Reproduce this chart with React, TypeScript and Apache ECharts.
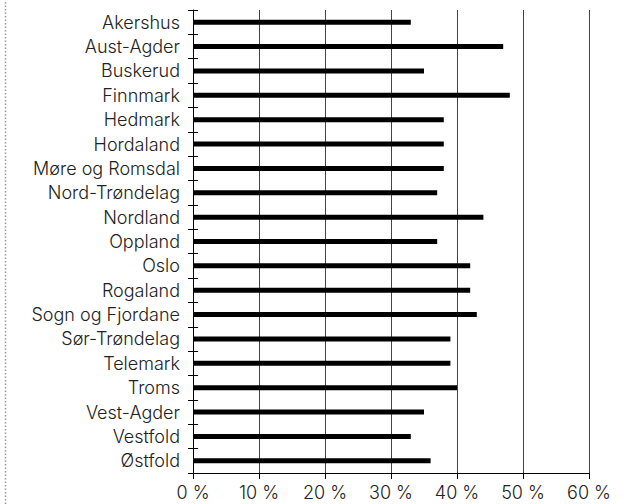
import React, { useEffect, useRef } from "react";
import * as echarts from "echarts";

const categories = [
  "Akershus", "Aust-Agder", "Buskerud", "Finnmark", "Hedmark", "Hordaland",
  "Møre og Romsdal", "Nord-Trøndelag", "Nordland", "Oppland", "Oslo", "Rogaland",
  "Sogn og Fjordane", "Sør-Trøndelag", "Telemark", "Troms", "Vest-Agder", "Vestfold", "Østfold",
];
const values = [33, 47, 35, 48, 38, 38, 38, 37, 44, 37, 42, 42, 43, 39, 39, 40, 35, 33, 36];
const xMin = 0;
const xMax = 60;
const xStep = 10;

export default function App() {
  const ref = useRef<HTMLDivElement>(null);
  useEffect(() => {
    document.body.style.margin = "0";
    const chart = echarts.init(ref.current!, null, { renderer: "svg" });
    const font = "Inter, 'Noto Sans', sans-serif";
    chart.setOption({
      animation: false,
      backgroundColor: "#ffffff",
      grid: { left: 193, right: 41, top: 10, bottom: 31, containLabel: false },
      graphic: [
        {
          type: "line",
          shape: { x1: 5.5, y1: 2, x2: 5.5, y2: 504 },
          style: { stroke: "#999", lineWidth: 1.5, lineDash: [1.5, 2] },
        },
      ],
      xAxis: {
        type: "value",
        min: xMin,
        max: xMax,
        interval: xStep,
        axisLine: { show: true, lineStyle: { color: "#000", width: 1 } },
        axisTick: { show: true, length: 6, lineStyle: { color: "#000" } },
        axisLabel: {
          formatter: "{value} %",
          color: "#222",
          fontSize: 18,
          fontWeight: 300,
          fontFamily: font,
          margin: 10,
        },
        splitLine: { show: true, lineStyle: { color: "#444", width: 1 } },
      },
      yAxis: [
        {
          type: "category",
          data: categories,
          inverse: true,
          axisLine: { show: true, lineStyle: { color: "#000", width: 1 } },
          axisTick: { show: true, length: 5, lineStyle: { color: "#000" } },
          axisLabel: {
            color: "#222",
            fontSize: 18,
            fontWeight: 300,
            fontFamily: font,
            margin: 13,
          },
          splitLine: { show: false },
        },
        {
          type: "category",
          data: categories,
          inverse: true,
          position: "left",
          axisLine: { show: false },
          axisTick: { show: true, inside: true, length: 5, lineStyle: { color: "#000" } },
          axisLabel: { show: false },
          splitLine: { show: false },
        },
      ],
      series: [
        {
          type: "bar",
          data: values,
          yAxisIndex: 0,
          barWidth: 5,
          itemStyle: { color: "#000" },
          silent: true,
        },
      ],
    });
    return () => chart.dispose();
  }, []);
  return <div ref={ref} style={{ position: "absolute", left: 0, top: 0, width: 630, height: 504 }} />;
}
